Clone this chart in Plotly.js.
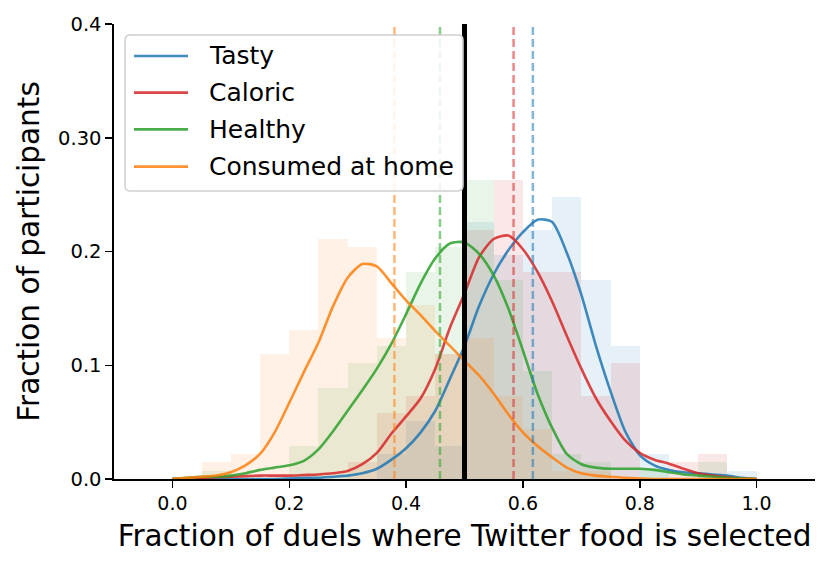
<!DOCTYPE html>
<html>
<head>
<meta charset="utf-8">
<script src="https://cdn.plot.ly/plotly-3.0.1.min.js"></script>
<style>html,body{margin:0;padding:0;background:#fff;}#chart{width:830px;height:566px;}</style>
</head>
<body>
<div id="chart"></div>
<script>
// ---- data ----
const seriesNames = ["Tasty", "Caloric", "Healthy", "Consumed at home"];
const binLeft = [0.05,0.10,0.15,0.20,0.25,0.30,0.35,0.40,0.45,0.50,0.55,0.60,0.65,0.70,0.75,0.80,0.85,0.90,0.95];
const binWidth = 0.05;
const tastyHist   = [0,0,0,0,0,0,0.022,0.051,0.029,0.226,0.197,0.219,0.248,0.175,0.117,0.022,0,0,0.007];
const caloricHist = [0,0,0,0,0,0.015,0.058,0.073,0.110,0.219,0.263,0.182,0.182,0.073,0.102,0,0.015,0.022,0];
const healthyHist = [0.007,0,0,0.029,0.080,0.102,0.117,0.182,0.204,0.263,0.175,0.095,0.022,0.015,0,0.010,0,0.015,0];
const homeHist    = [0.015,0.022,0.110,0.131,0.211,0.204,0.124,0.153,0.110,0.124,0.073,0.044,0.007,0.007,0,0,0,0,0];

const kdeX = [0,0.025,0.05,0.075,0.1,0.125,0.15,0.175,0.2,0.225,0.25,0.275,0.3,0.325,0.35,0.375,0.4,0.425,0.45,0.475,0.5,
              0.525,0.55,0.575,0.6,0.625,0.65,0.675,0.7,0.725,0.75,0.775,0.8,0.825,0.85,0.875,0.9,0.925,0.95,0.975,1.0];
const tastyKde   = [0,0,0,0,0,0,0,0,0.0005,0.001,0.001,0.002,0.003,0.005,0.009,0.017,0.027,0.041,0.060,0.088,0.117,
                    0.152,0.180,0.201,0.217,0.228,0.226,0.199,0.162,0.117,0.077,0.042,0.021,0.012,0.008,0.006,0.005,0.004,0.003,0.001,0];
const caloricKde = [0,0.0005,0.001,0.0015,0.002,0.0025,0.003,0.003,0.003,0.0035,0.004,0.005,0.007,0.013,0.023,0.040,0.055,0.071,0.097,0.133,0.163,
                    0.195,0.211,0.214,0.202,0.182,0.156,0.126,0.097,0.071,0.051,0.034,0.023,0.017,0.0135,0.009,0.005,0.003,0.0015,0.0005,0];
const healthyKde = [0,0.001,0.002,0.002,0.003,0.005,0.008,0.010,0.012,0.016,0.026,0.042,0.060,0.078,0.097,0.119,0.145,0.172,0.194,0.207,0.208,
                    0.198,0.179,0.150,0.113,0.075,0.045,0.022,0.013,0.010,0.009,0.009,0.009,0.008,0.006,0.004,0.003,0.002,0.001,0.0005,0];
const homeKde    = [0,0.001,0.002,0.003,0.006,0.012,0.022,0.041,0.067,0.094,0.120,0.152,0.177,0.189,0.187,0.172,0.157,0.144,0.130,0.117,0.104,
                    0.091,0.075,0.057,0.041,0.029,0.019,0.010,0.005,0.003,0.002,0.001,0.0005,0,0,0,0,0,0,0,0];

const meanValues = [0.617, 0.584, 0.458, 0.380];
const referenceLine = 0.5;
const xTickVals = [0.0,0.2,0.4,0.6,0.8,1.0];
const yTickVals = [0.0,0.1,0.2,0.3,0.4];
const yTickText = ["0.0","0.1","0.2","0.30","0.4"];

// ---- styling ----
const colors = ["#1f77b4", "#d62728", "#2ca02c", "#ff7f0e"];
const hists = [tastyHist, caloricHist, healthyHist, homeHist];
const kdes = [tastyKde, caloricKde, healthyKde, homeKde];
const centers = binLeft.map(v => v + binWidth / 2);

const traces = [];
for (let i = 0; i < 4; i++) {
  traces.push({
    type: "bar", x: centers, y: hists[i], width: binWidth,
    marker: {color: colors[i], opacity: 0.11, line: {width: 0}},
    showlegend: false, hoverinfo: "skip"
  });
}
for (let i = 0; i < 4; i++) {
  traces.push({
    type: "scatter", mode: "lines", x: kdeX, y: kdes[i], name: seriesNames[i],
    line: {color: colors[i], width: 2.6, shape: "spline", smoothing: 0.7},
    opacity: 0.85, showlegend: false
  });
}
for (let i = 0; i < 4; i++) {
  traces.push({
    type: "scatter", mode: "lines", x: [meanValues[i], meanValues[i]], y: [0, 0.4],
    line: {color: colors[i], width: 2.5, dash: "8px,4px"}, opacity: 0.55,
    showlegend: false, hoverinfo: "skip"
  });
}
traces.push({
  type: "scatter", mode: "lines", x: [referenceLine, referenceLine], y: [0, 0.4],
  line: {color: "#000000", width: 5}, showlegend: false, hoverinfo: "skip"
});

// ---- legend box (matplotlib-style, rounded frame) built from the series names ----
const font = "DejaVu Sans, Liberation Sans, sans-serif";
const legX0 = 0.0157, legX1 = 0.4979, legYTop = 0.9758, legYBot = 0.633;
const rx = 0.0075, ry = 0.0115;
const framePath =
  `M ${legX0 + rx},${legYTop} L ${legX1 - rx},${legYTop} Q ${legX1},${legYTop} ${legX1},${legYTop - ry} ` +
  `L ${legX1},${legYBot + ry} Q ${legX1},${legYBot} ${legX1 - rx},${legYBot} ` +
  `L ${legX0 + rx},${legYBot} Q ${legX0},${legYBot} ${legX0},${legYBot + ry} ` +
  `L ${legX0},${legYTop - ry} Q ${legX0},${legYTop} ${legX0 + rx},${legYTop} Z`;
const rowY = [0.9297, 0.849, 0.7686, 0.6864];
const shapes = [{
  type: "path", xref: "paper", yref: "paper", path: framePath,
  fillcolor: "rgba(255,255,255,0.85)", line: {color: "#cfcfcf", width: 1.5}, layer: "above"
}];
const annotations = [];
for (let i = 0; i < 4; i++) {
  shapes.push({
    type: "line", xref: "paper", yref: "paper", x0: 0.0285, x1: 0.1056, y0: rowY[i], y1: rowY[i],
    line: {color: colors[i], width: 2.7}, opacity: 0.85, layer: "above"
  });
  annotations.push({
    xref: "paper", yref: "paper", x: 0.1327, y: rowY[i], xanchor: "left", yanchor: "middle",
    text: seriesNames[i], showarrow: false, font: {family: font, size: 25, color: "#000"}
  });
}

const layout = {
  width: 830, height: 566,
  margin: {l: 114, r: 15, t: 24, b: 87},
  paper_bgcolor: "#ffffff", plot_bgcolor: "#ffffff",
  font: {family: font, color: "#000000", size: 19},
  barmode: "overlay", bargap: 0,
  showlegend: false,
  shapes: shapes,
  annotations: annotations,
  xaxis: {
    range: [-0.1, 1.1], tickvals: xTickVals, tickformat: ".1f",
    showgrid: false, zeroline: false, showline: true, linecolor: "#000", linewidth: 1.6,
    ticks: "outside", ticklen: 7, tickwidth: 1.5, tickcolor: "#000",
    tickfont: {size: 19, family: font},
    title: {text: "Fraction of duels where Twitter food is selected", font: {size: 29.5, family: font}, standoff: 12}
  },
  yaxis: {
    range: [0, 0.4], tickvals: yTickVals, ticktext: yTickText,
    showgrid: false, zeroline: false, showline: true, linecolor: "#000", linewidth: 1.6,
    ticks: "outside", ticklen: 7, tickwidth: 1.5, tickcolor: "#000",
    tickfont: {size: 19.5, family: font},
    title: {text: "Fraction of participants", font: {size: 29.5, family: font}, standoff: 10}
  }
};
Plotly.newPlot("chart", traces, layout, {staticPlot: true, displayModeBar: false});
</script>
</body>
</html>
